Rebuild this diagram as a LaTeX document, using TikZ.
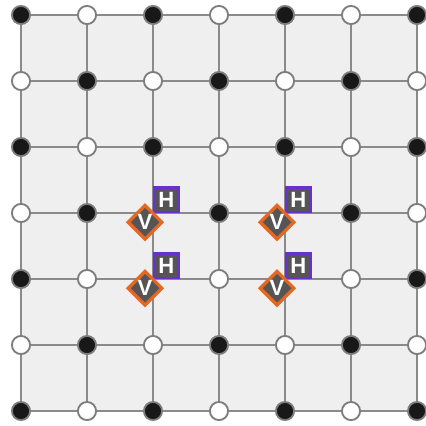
\documentclass[tikz,border=0pt]{standalone}
\usepackage{fontspec}
\setsansfont{Liberation Sans}
\usetikzlibrary{positioning,shapes.geometric}
\definecolor{GridGray}{RGB}{138,138,138}
\definecolor{PanelGray}{RGB}{239,239,239}
\definecolor{DotBlack}{RGB}{24,24,24}
\definecolor{DotRing}{RGB}{125,125,125}
\definecolor{MarkFill}{RGB}{85,85,85}
\definecolor{HPurple}{RGB}{104,48,204}
\definecolor{VOrange}{RGB}{226,104,36}
\tikzset{
  gridline/.style={draw=GridGray,line width=1.1pt},
  dot0/.style={circle,draw=DotRing,fill=DotBlack,line width=0.8pt,
    minimum size=0.275cm,inner sep=0pt},
  dot1/.style={circle,draw=DotRing,fill=white,line width=0.8pt,
    minimum size=0.275cm,inner sep=0pt},
  hbox/.style={draw=HPurple,fill=MarkFill,line width=1pt,
    minimum size=0.37cm,inner sep=0pt,text=white,
    font=\sffamily\bfseries\fontsize{9.5}{10}\selectfont},
  vbox/.style={diamond,draw=VOrange,fill=MarkFill,line width=1.4pt,
    minimum size=0.53cm,inner sep=0pt,text=white,
    font=\sffamily\bfseries\fontsize{9.5}{10}\selectfont}
}

\begin{document}
\begin{tikzpicture}
  \useasboundingbox (-0.318,0.227) rectangle (6.136,-6.227);
  % lattice points
  \foreach \c in {0,...,6}{
    \foreach \r in {0,...,6}{
      \coordinate (p-\c-\r) at (\c,-\r);
    }
  }
  \fill[PanelGray] (p-0-0) rectangle (p-6-6);
  \foreach \k in {0,...,6}{
    \draw[gridline] (p-0-\k) -- (p-6-\k);
    \draw[gridline] (p-\k-0) -- (p-\k-6);
  }
  % black / white sites
  \foreach \c in {0,...,6}{
    \foreach \r in {0,...,6}{
      \pgfmathtruncatemacro{\odd}{mod(\c+\r,2)}
      \pgfmathtruncatemacro{\hidden}{(\c==2||\c==4)&&(\r==3||\r==4)}
      \ifnum\hidden=0
        \node[dot\odd] (d-\c-\r) at (p-\c-\r) {};
      \fi
    }
  }
  % H and V markers
  \foreach \c in {2,4}{
    \foreach \r in {3,4}{
      \node[hbox,above right=0pt of p-\c-\r] (h-\c-\r) {H};
      \node[vbox,xshift=-0.12cm,yshift=-0.14cm] (v-\c-\r) at (p-\c-\r) {V};
    }
  }
\end{tikzpicture}
\end{document}
